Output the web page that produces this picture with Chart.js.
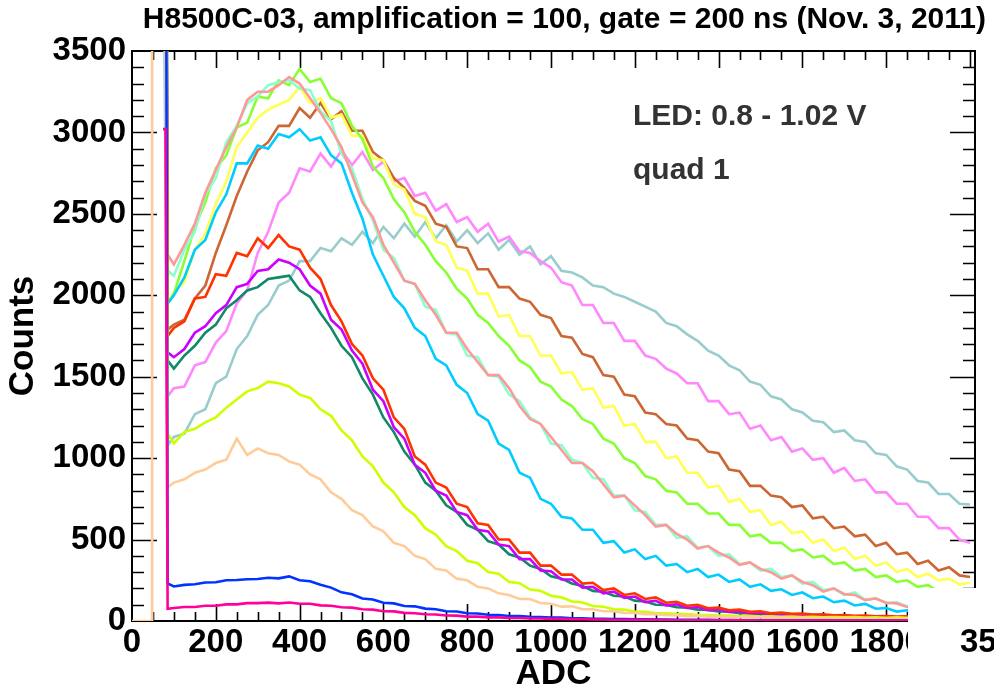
<!DOCTYPE html>
<html>
<head>
<meta charset="utf-8">
<script src="https://cdn.jsdelivr.net/npm/chart.js@4.4.1/dist/chart.umd.min.js"></script>
<style>
  html, body { margin: 0; padding: 0; background: #ffffff; }
  #c { display: block; }
</style>
</head>
<body>
<canvas id="c" width="994" height="695"></canvas>
<script>
// ---------------- DATA ----------------
const adc = [85,100,125,150,175,200,225,250,275,300,
             325,350,375,400,425,450,475,500,525,550,
             575,600,625,650,675,700,725,750,775,800,
             825,850,875,900,925,950,975,1000,1025,1050,
             1075,1100,1125,1150,1175,1200,1225,1250,1275,1300,
             1325,1350,1375,1400,1425,1450,1475,1500,1525,1550,
             1575,1600,1625,1650,1675,1700,1725,1750,1775,1800,
             1825,1850,1875,1900,1925,1950,1975,2000];

const seriesNames  = ['hotpink','blue','peach','yellowgreen','red','purple','darkgreen','cyan','salmon','aquamarine','lime','yellow','brown','violet','gray'];
const seriesColors = ['#ff0099','#0033ff','#ffcc99','#ccff00','#ff3300','#cc00ff','#118866','#00ccff','#ff9999','#88ffcc','#88ff33','#ffff55','#cc6633','#ff88ff','#99cccc'];

// pedestal spike (ADC start, ADC end, counts)
const pedestalStart = [74,74,48,74,74,74,74,74,74,74,74,74,74,74,62];
const pedestalEnd   = [80,80,76,80,80,80,80,80,80,80,80,80,80,80,70];
const pedestalPeak  = [3020,6000,6000,6000,6000,6000,6000,6000,6000,6000,6000,6000,6000,6000,6000];
const peachZeroAdc  = [0,48];

const hotpink = [75,80,86,86,94,94,102,102,110,110, 113,108,114,106,106,96,94,84,82,72, 70,60,59,50,48,41,40,34,33,27,
  27,22,22,18,18,15,15,13,13,11, 11,9,9,8,8,7,7,6,6,5, 5,5,4,4,4,4,3,3,3,3, 3,3,3,3,2,2,2,2,2,2, 2,2,2,2,2,2,2,2];
const blue = [230,212,222,226,236,238,250,252,256,258, 266,262,274,250,244,222,205,176,164,138, 132,112,108,92,90,76,72,60,58,48,
  46,38,37,31,31,26,25,21,21,17, 17,14,14,12,12,10,10,9,9,8, 8,7,7,6,6,5,5,5,5,4, 4,4,4,4,3,3,3,3,3,3, 3,3,3,3,3,3,3,3];
const peach = [820,850,870,910,930,970,990,1120,1020,1060, 1030,1020,980,960,900,870,790,750,680,650, 580,550,480,460,400,380,320,310,260,250,
  210,200,170,160,135,135,110,106,88,90, 72,72,60,60,50,49,42,42,35,35, 30,31,27,27,24,24,22,22,20,20, 18,19,17,17,16,16,15,15,14,14, 13,13,12,12,11,11,10,10];
const yellowgreen = [1150,1090,1160,1180,1220,1250,1310,1360,1410,1430, 1470,1460,1440,1390,1370,1300,1260,1170,1110,1010, 950,850,790,700,650,570,530,460,430,370,
  355,300,290,240,232,193,186,155,145,120, 114,92,88,72,70,58,57,48,48,42, 42,37,37,33,33,30,30,28,29,26, 27,24,26,23,25,22,24,21,23,20, 22,19,21,18,20,17,19,16];
const red = [1750,1800,1840,1980,1990,2130,2120,2260,2240,2350, 2290,2370,2300,2280,2170,2100,1940,1840,1700,1630, 1490,1420,1250,1180,1010,960,850,820,720,700,
  600,590,500,500,420,420,340,340,285,285, 230,235,190,200,160,170,135,145,112,118, 94,100,78,82,66,70,56,60,48,52, 44,46,39,41,35,37,32,34,29,31, 27,29,26,27,24,26,23,24];
const purple = [1650,1620,1670,1770,1810,1890,1940,2050,2070,2150, 2160,2220,2200,2160,2060,2010,1850,1790,1660,1580, 1420,1350,1190,1120,960,910,800,770,670,650,
  560,550,470,460,380,380,310,305,255,255, 205,210,170,180,142,150,116,124,96,102, 80,86,66,70,55,59,46,50,40,43, 36,39,33,35,30,32,28,29,25,27, 23,25,22,23,20,22,19,20];
const darkgreen = [1600,1550,1630,1690,1770,1820,1920,1970,2030,2050, 2100,2110,2120,2030,1990,1890,1800,1690,1620,1490, 1390,1250,1160,1040,960,850,800,710,670,590,
  560,490,470,410,390,340,320,275,260,230, 215,185,180,155,150,125,120,100,98,84, 82,70,68,58,57,48,48,41,41,36, 37,32,33,29,30,26,27,24,25,22, 23,20,21,19,20,18,19,17];
const cyan = [1950,2000,2110,2280,2340,2510,2620,2810,2810,2920, 2900,2990,2970,3020,2950,2970,2860,2810,2630,2470, 2250,2120,1990,1920,1800,1750,1610,1570,1450,1400,
  1270,1230,1090,1050,910,880,750,720,640,630, 560,560,480,490,420,440,380,400,340,350, 300,320,270,285,240,255,210,225,185,195, 160,175,140,150,115,125,95,105,75,80, 58,66,46,54,38,44,32,36];
const salmon = [2250,2190,2310,2440,2630,2770,2910,3030,3200,3250, 3250,3290,3340,3300,3210,3120,3020,2910,2740,2570, 2480,2310,2200,2090,2070,1970,1880,1770,1770,1670,
  1590,1510,1510,1430,1320,1240,1210,1130,1050,970, 970,920,840,760,770,710,650,580,590,535, 500,445,460,420,390,345,360,320,300,260, 280,240,220,180,200,165,160,128,138,112, 108,86,96,78,76,64,70,60];
const aquamarine = [2150,2120,2280,2390,2620,2720,2940,3040,3180,3220, 3290,3310,3320,3270,3260,3130,3070,2870,2780,2590, 2460,2280,2230,2090,2070,1930,1910,1770,1760,1630,
  1620,1510,1500,1390,1350,1250,1210,1090,1080,990, 970,880,870,770,770,680,670,590,590,510, 520,450,460,400,410,350,360,310,320,270, 280,230,240,190,200,160,175,130,140,110, 115,90,95,75,80,68,68,58];
const lime = [1950,2010,2210,2420,2570,2780,2860,3030,3060,3220, 3210,3320,3290,3390,3310,3330,3210,3180,3040,2960, 2790,2720,2590,2510,2390,2310,2210,2140,2040,1980,
  1880,1830,1750,1690,1600,1560,1470,1440,1360,1320, 1240,1210,1120,1090,1000,970,890,870,800,790, 720,720,660,660,590,590,520,530,480,480, 430,440,390,400,350,360,310,320,270,280, 240,250,210,220,180,190,160,165];
const yellow = [1950,2020,2080,2280,2380,2560,2700,2910,3000,3090, 3140,3170,3200,3280,3180,3210,3090,3110,2980,2980, 2840,2830,2680,2650,2500,2480,2330,2310,2170,2150,
  2010,2010,1870,1880,1750,1750,1630,1630,1520,1530, 1420,1430,1310,1320,1200,1210,1100,1100,1000,1010, 910,910,820,830,730,750,670,680,590,610, 540,550,480,500,430,450,380,400,340,360, 300,320,270,290,250,260,225,235];
const brown = [1790,1820,1850,1980,2060,2260,2430,2610,2760,2890, 2940,3040,3040,3150,3090,3180,3080,3130,3010,3010, 2880,2830,2720,2660,2580,2550,2440,2420,2300,2290,
  2160,2160,2050,2050,1980,1960,1880,1860,1750,1740, 1640,1620,1510,1500,1390,1380,1280,1270,1210,1200, 1120,1110,1040,1030,930,920,830,830,770,760, 700,710,630,640,570,580,520,530,460,480, 410,420,350,370,310,330,280,270];
const violet = [1380,1430,1440,1570,1590,1710,1780,1950,2030,2260, 2390,2570,2630,2780,2760,2870,2790,2890,2800,2880, 2770,2820,2700,2720,2610,2630,2520,2560,2450,2480,
  2390,2440,2330,2360,2270,2260,2210,2170,2080,2060, 1940,1940,1830,1830,1720,1720,1630,1610,1550,1520, 1460,1460,1350,1350,1270,1280,1180,1200,1110,1130, 1040,1060,990,1000,910,940,860,870,790,790, 720,720,640,640,570,570,500,480];
const gray = [1080,1130,1150,1270,1300,1460,1500,1670,1750,1880, 1940,2060,2090,2210,2210,2290,2270,2350,2310,2390, 2320,2420,2350,2440,2360,2450,2350,2430,2330,2400,
  2320,2380,2280,2340,2250,2300,2190,2240,2150,2140, 2110,2060,2050,2010,1990,1960,1930,1900,1830,1810, 1760,1720,1660,1630,1570,1540,1470,1450,1380,1360, 1300,1280,1230,1220,1160,1170,1110,1100,1030,1020, 950,930,860,850,780,780,720,715];

const seriesValues = [hotpink, blue, peach, yellowgreen, red, purple, darkgreen, cyan, salmon, aquamarine, lime, yellow, brown, violet, gray];

const xTickValues = [0,200,400,600,800,1000,1200,1400,1600,1800,2000];
const xTickLabels = ['0','200','400','600','800','1000','1200','1400','1600','1800',''];
const yTickLabels = ['0','500','1000','1500','2000','2500','3000','3500'];

const titleText = 'H8500C-03, amplification = 100, gate = 200 ns (Nov. 3, 2011)';
const noteLines = ['LED: 0.8 - 1.02 V', 'quad 1'];
const cutLabel = '35';

// ---------------- BUILD ----------------
const FONT = "'Liberation Sans', Arial, Helvetica, sans-serif";
Chart.defaults.font.family = FONT;

function buildPoints(i) {
  const pts = [];
  if (seriesNames[i] === 'peach') {
    peachZeroAdc.forEach(a => pts.push({x: a, y: 0}));
  }
  pts.push({x: pedestalStart[i], y: pedestalPeak[i]});
  pts.push({x: pedestalEnd[i], y: pedestalPeak[i]});
  seriesValues[i].forEach((v, j) => pts.push({x: adc[j], y: v}));
  return pts;
}

const datasets = seriesNames.map((n, i) => ({
  label: n,
  data: buildPoints(i),
  borderColor: seriesColors[i],
  backgroundColor: seriesColors[i],
  borderWidth: 2.6,
  pointRadius: 0,
  tension: 0,
  fill: false,
  xAxisID: 'x',
  yAxisID: 'y'
}));

const X_MINOR = 50, X_MAJOR = 200, Y_MINOR = 100, Y_MAJOR = 500;
const X_TICK_PAD = 2;

const frameTicks = {
  id: 'frameTicks',
  beforeDatasetsDraw(chart) {
    const {ctx, chartArea: a, scales: {x, y}} = chart;
    ctx.save();
    ctx.strokeStyle = '#000';
    ctx.lineWidth = 1.6;
    ctx.beginPath();
    for (let v = X_MINOR; v < x.max; v += X_MINOR) {
      const px = Math.round(x.getPixelForValue(v)) + 0.5;
      const L = (v % X_MAJOR === 0) ? 17 : 9;
      ctx.moveTo(px, a.bottom); ctx.lineTo(px, a.bottom - L);
      ctx.moveTo(px, a.top); ctx.lineTo(px, a.top + L);
    }
    for (let v = Y_MINOR; v < y.max; v += Y_MINOR) {
      const py = Math.round(y.getPixelForValue(v)) + 0.5;
      const L = (v % Y_MAJOR === 0) ? 25 : 12;
      ctx.moveTo(a.left, py); ctx.lineTo(a.left + L, py);
      ctx.moveTo(a.right, py); ctx.lineTo(a.right - L, py);
    }
    ctx.stroke();
    ctx.lineWidth = 2;
    ctx.strokeRect(a.left, a.top, a.right - a.left, a.bottom - a.top);
    ctx.restore();
  },
  afterDraw(chart) {
    const {ctx, scales: {x}} = chart;
    ctx.save();
    // white cut-out at lower right
    const cutX = Math.round(x.getPixelForValue(1852));
    ctx.fillStyle = '#ffffff';
    ctx.fillRect(cutX, 588, chart.width - cutX, chart.height - 588);
    // cut tick label
    ctx.fillStyle = '#000';
    ctx.font = 'bold 33px ' + FONT;
    ctx.textBaseline = 'middle';
    ctx.textAlign = 'left';
    ctx.fillText(cutLabel, 960, x.top + X_TICK_PAD + 33 * 1.2 / 2);
    // notes
    ctx.fillStyle = '#333333';
    ctx.font = 'bold 30px ' + FONT;
    ctx.textBaseline = 'alphabetic';
    ctx.fillText(noteLines[0], 633, 125);
    ctx.fillText(noteLines[1], 633, 179);
    ctx.restore();
  }
};

new Chart(document.getElementById('c'), {
  type: 'line',
  data: { datasets },
  plugins: [frameTicks],
  options: {
    responsive: false,
    animation: false,
    devicePixelRatio: 1,
    layout: { padding: { left: 0, right: 8, top: 0, bottom: 0 } },
    plugins: {
      legend: { display: false },
      tooltip: { enabled: false },
      title: {
        display: true,
        text: titleText,
        align: 'end',
        color: '#000',
        font: { size: 30, weight: 'bold', family: FONT },
        padding: { top: 2, bottom: 13 }
      }
    },
    scales: {
      x: {
        type: 'linear',
        position: 'bottom',
        min: 0,
        max: 2012,
        grid: { display: false, drawTicks: false, tickLength: 0 },
        border: { display: false },
        afterBuildTicks(s) { s.ticks = xTickValues.map(v => ({value: v})); },
        afterFit(s) { s.height = 74; },
        ticks: {
          autoSkip: false,
          maxRotation: 0,
          minRotation: 0,
          padding: X_TICK_PAD,
          color: '#000',
          font: { size: 33, weight: 'bold', family: FONT },
          callback(v) { const k = xTickValues.indexOf(v); return k >= 0 ? xTickLabels[k] : ''; }
        },
        title: {
          display: true,
          text: 'ADC',
          color: '#000',
          font: { size: 35, weight: 'bold', family: FONT },
          padding: { top: 0, bottom: 0 }
        }
      },
      y: {
        type: 'linear',
        position: 'left',
        min: 0,
        max: 3500,
        grid: { display: false, drawTicks: false, tickLength: 0 },
        border: { display: false },
        afterFit(s) { s.width = 132; },
        ticks: {
          stepSize: 500,
          autoSkip: false,
          padding: 6,
          color: '#000',
          font: { size: 33, weight: 'bold', family: FONT },
          callback(v) { const k = v / 500; return Number.isInteger(k) ? yTickLabels[k] : ''; }
        },
        title: {
          display: true,
          text: 'Counts',
          color: '#000',
          font: { size: 35, weight: 'bold', family: FONT },
          padding: { top: 2, bottom: 0 }
        }
      },
      y2: {
        type: 'linear',
        position: 'right',
        display: true,
        min: 0,
        max: 3500,
        grid: { display: false, drawTicks: false },
        border: { display: false },
        ticks: { display: false },
        afterFit(s) { s.width = 11; }
      }
    }
  }
});
</script>
</body>
</html>
